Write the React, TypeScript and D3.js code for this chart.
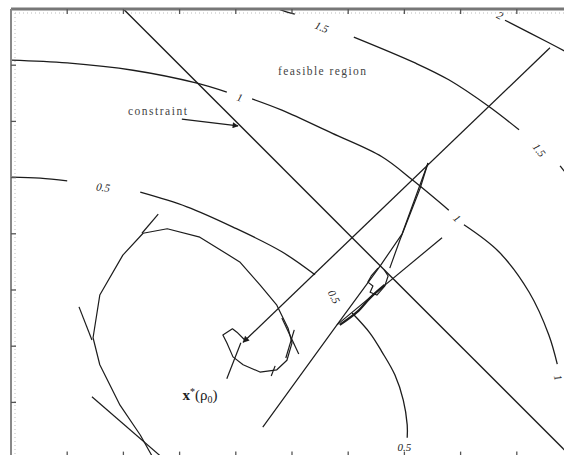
import React, { useEffect, useRef } from 'react'
import * as d3 from 'd3'

type Pt = [number, number]

// level curves of the objective, broken where a label sits
const contourHalf: Pt[][] = [
  [[0, 5.01], [0.52, 4.99], [1.0, 4.94]],
  [[2.3, 4.74], [3.13, 4.48], [3.95, 4.12], [4.82, 3.68], [5.41, 3.27]],
  [[6.07, 2.59], [6.39, 2.23], [6.6, 1.9], [6.83, 1.49], [6.98, 1.04], [7.05, 0.6], [7.05, 0.37]],
]
const contourOne: Pt[][] = [
  [[0, 7.09], [1.0, 7.04], [2.17, 6.91], [3.31, 6.68], [3.84, 6.52]],
  [[4.29, 6.4], [4.82, 6.2], [5.71, 5.79], [6.6, 5.37], [7.14, 4.96], [7.79, 4.42]],
  [[8.06, 4.16], [8.68, 3.68], [9.22, 2.96], [9.57, 2.2], [9.72, 1.68]],
  [[9.9, 1.33], [10, 1.28]],
]
const contourOneHalf: Pt[][] = [
  [[4.75, 8.0], [4.9, 7.95], [5.05, 7.91]],
  [[6.1, 7.5], [7.19, 7.04], [7.79, 6.74], [8.51, 6.26], [9.04, 5.85]],
  [[9.77, 5.21], [10.04, 4.87]],
]
const contourTwo: Pt[][] = [
  [[8.79, 7.8], [9.57, 7.4], [10.04, 7.15]],
]
const contourLevels = ['0.5', '1', '1.5', '2']
const labelText = ['0.5', '0.5', '0.5', '1', '1', '1', '1.5', '1.5', '2']
const labelAt: Pt[] = [
  [1.64, 4.83], [5.75, 2.88], [7.0, 0.2],
  [4.07, 6.43], [7.94, 4.28], [9.74, 1.44],
  [5.53, 7.68], [9.4, 5.49],
  [8.7, 7.89],
]
const labelAngle = [8, 62, 0, 17, 44, 75, 22, 52, 28]

// linear constraint x + y = 10
const constraintLine: Pt[] = [[2.0, 8.0], [10.0, 0.0]]
const constraintArrow: Pt[] = [[3.04, 6.04], [4.04, 5.92]]

// path of the unconstrained iterates (spiral into x*(rho0))
const spiralPath: Pt[] = [
  [2.53, 0.01], [2.3, 0.42], [1.94, 0.95], [1.58, 1.67], [1.46, 2.15], [1.58, 2.91],
  [1.99, 3.62], [2.35, 4.01], [2.78, 4.09], [3.36, 3.94], [4.07, 3.5], [4.43, 3.09],
  [4.73, 2.73], [4.93, 2.32], [5.0, 2.06], [4.91, 1.75], [4.73, 1.58], [4.43, 1.54],
  [4.13, 1.67], [3.95, 1.81], [3.84, 2.06], [3.77, 2.2], [3.94, 2.31], [4.02, 2.25], [4.16, 2.11],
]
const searchLines: Pt[][] = [
  [[2.62, 4.35], [2.33, 4.01]],
  [[1.21, 2.7], [1.44, 2.11]],
  [[1.44, 1.1], [2.7, 0.01]],
  [[4.82, 2.5], [5.12, 1.86]],
  [[5.04, 2.29], [4.89, 1.79]],
  [[4.63, 1.47], [4.7, 1.65]],
  [[3.84, 1.42], [4.09, 2.06]],
]
// path towards the constrained solution
const centralRay: Pt[] = [[9.59, 7.31], [4.13, 2.07]]
const wedgeLeft: Pt[] = [[4.48, 0.56], [5.8, 2.38], [6.57, 3.43], [6.96, 4.0], [7.42, 5.26]]
const wedgeRight: Pt[] = [[7.42, 5.26], [7.28, 4.81], [6.92, 3.89], [6.74, 3.39]]
const lowerRay: Pt[] = [[7.67, 3.93], [5.8, 2.38]]
const approach: Pt[] = [[6.65, 3.09], [6.39, 2.86], [6.16, 2.61], [5.85, 2.38]]
const loopNear: Pt[] = [
  [6.53, 3.39], [6.41, 3.25], [6.35, 3.14], [6.44, 3.07], [6.39, 2.96],
  [6.51, 2.91], [6.65, 3.07], [6.71, 3.25], [6.64, 3.36],
]

const xTicks = [1, 2, 3, 4, 5, 6, 7, 8, 9]
const yTicks = [1, 2, 3, 4, 5, 6, 7]

export default function App() {
  const ref = useRef<SVGSVGElement>(null)

  useEffect(() => {
    const svg = d3.select(ref.current)
    svg.selectAll('*').remove()
    const x = d3.scaleLinear().domain([0, 10]).range([11, 573])
    const y = d3.scaleLinear().domain([0, 8]).range([458.6, 9])
    const ink = '#1c1c1c'

    const defs = svg.append('defs')
    defs.append('clipPath').attr('id', 'frame')
      .append('rect')
      .attr('x', x(0)).attr('y', y(8))
      .attr('width', x(10) - x(0)).attr('height', y(0) - y(8))
    defs.append('marker')
      .attr('id', 'head').attr('viewBox', '0 0 10 10')
      .attr('refX', 9).attr('refY', 5)
      .attr('markerWidth', 6.5).attr('markerHeight', 5)
      .attr('orient', 'auto')
      .append('path').attr('d', 'M0,0L10,5L0,10z').attr('fill', ink)

    const smooth = d3.line<Pt>().x(d => x(d[0])).y(d => y(d[1])).curve(d3.curveCatmullRom)
    const straight = d3.line<Pt>().x(d => x(d[0])).y(d => y(d[1]))

    const g = svg.append('g').attr('clip-path', 'url(#frame)')

    // faint inner dotted frame
    g.append('line').attr('x1', x(0)).attr('x2', x(10)).attr('y1', y(8) + 4).attr('y2', y(8) + 4)
      .attr('stroke', '#bbb').attr('stroke-dasharray', '1,3')
    g.append('line').attr('x1', x(0) + 4).attr('x2', x(0) + 4).attr('y1', y(8)).attr('y2', y(0))
      .attr('stroke', '#bbb').attr('stroke-dasharray', '1,3')

    const contours = [contourHalf, contourOne, contourOneHalf, contourTwo]
    contours.forEach((segs, i) => {
      g.selectAll(`.c${i}`)
        .data(segs)
        .enter()
        .append('path')
        .attr('class', `c${i}`)
        .attr('data-level', contourLevels[i])
        .attr('d', smooth)
        .attr('fill', 'none')
        .attr('stroke', ink)
        .attr('stroke-width', 1.3)
    })

    g.selectAll('.clab')
      .data(labelText)
      .enter()
      .append('text')
      .attr('class', 'clab')
      .attr('transform', (d, i) => `translate(${x(labelAt[i][0])},${y(labelAt[i][1])}) rotate(${labelAngle[i]})`)
      .attr('text-anchor', 'middle')
      .attr('dominant-baseline', 'central')
      .attr('font-family', '"Liberation Serif", serif')
      .attr('font-style', 'italic')
      .attr('font-size', 11)
      .attr('fill', '#222')
      .text(d => d)

    g.append('path').attr('d', straight(constraintLine))
      .attr('fill', 'none').attr('stroke', ink).attr('stroke-width', 1.4)

    const polys = [spiralPath, wedgeLeft, wedgeRight, lowerRay, loopNear]
    g.selectAll('.poly')
      .data(polys)
      .enter()
      .append('path')
      .attr('class', 'poly')
      .attr('d', straight)
      .attr('fill', 'none')
      .attr('stroke', ink)
      .attr('stroke-width', 1.2)
      .attr('stroke-linejoin', 'round')

    g.selectAll('.search')
      .data(searchLines)
      .enter()
      .append('path')
      .attr('class', 'search')
      .attr('d', straight)
      .attr('fill', 'none')
      .attr('stroke', ink)
      .attr('stroke-width', 1.2)

    g.append('path').attr('d', smooth(approach))
      .attr('fill', 'none').attr('stroke', ink).attr('stroke-width', 2.2)

    g.append('path').attr('d', straight(centralRay))
      .attr('fill', 'none').attr('stroke', ink).attr('stroke-width', 1.3)
      .attr('marker-end', 'url(#head)')

    g.append('path').attr('d', straight(constraintArrow))
      .attr('fill', 'none').attr('stroke', ink).attr('stroke-width', 1.2)
      .attr('marker-end', 'url(#head)')

    g.append('text')
      .attr('x', x(2.08)).attr('y', y(6.11))
      .attr('font-family', '"Liberation Serif", serif')
      .attr('font-size', 11.5)
      .attr('textLength', 59)
      .attr('fill', '#444')
      .text('constraint')

    g.append('text')
      .attr('x', x(4.75)).attr('y', y(6.83))
      .attr('font-family', '"Liberation Serif", serif')
      .attr('font-size', 11.5)
      .attr('textLength', 88)
      .attr('fill', '#444')
      .text('feasible region')

    const sol = g.append('text')
      .attr('x', x(3.05)).attr('y', y(1.05))
      .attr('font-family', '"Liberation Serif", serif')
      .attr('font-size', 15)
      .attr('fill', '#222')
    sol.append('tspan').attr('font-weight', 'bold').text('x')
    sol.append('tspan').attr('dy', -5).attr('font-size', 10).text('*')
    sol.append('tspan').attr('dy', 5).text('(ρ')
    sol.append('tspan').attr('dy', 3).attr('font-size', 10).text('0')
    sol.append('tspan').attr('dy', -3).text(')')

    // frame and ticks
    svg.append('line').attr('x1', x(0)).attr('x2', x(10)).attr('y1', y(8)).attr('y2', y(8))
      .attr('stroke', '#777').attr('stroke-width', 3)
    svg.append('line').attr('x1', x(0)).attr('x2', x(0)).attr('y1', y(8)).attr('y2', y(0))
      .attr('stroke', '#888').attr('stroke-width', 2)
    svg.append('line').attr('x1', x(0)).attr('x2', x(10)).attr('y1', y(0)).attr('y2', y(0))
      .attr('stroke', '#777').attr('stroke-width', 2)

    svg.selectAll('.tt').data(xTicks).enter().append('line').attr('class', 'tt')
      .attr('x1', d => x(d)).attr('x2', d => x(d))
      .attr('y1', y(8)).attr('y2', y(8) + 5)
      .attr('stroke', '#555').attr('stroke-width', 1.3)
    svg.selectAll('.bt').data(xTicks).enter().append('line').attr('class', 'bt')
      .attr('x1', d => x(d)).attr('x2', d => x(d))
      .attr('y1', y(0)).attr('y2', y(0) - 7)
      .attr('stroke', '#555').attr('stroke-width', 1.3)
    svg.selectAll('.lt').data(yTicks).enter().append('line').attr('class', 'lt')
      .attr('x1', x(0)).attr('x2', x(0) + 5)
      .attr('y1', d => y(d)).attr('y2', d => y(d))
      .attr('stroke', '#555').attr('stroke-width', 1.3)
  }, [])

  return (
    <svg
      ref={ref}
      width={564}
      height={455}
      style={{ position: 'absolute', left: 0, top: 0, background: '#fff' }}
    />
  )
}
